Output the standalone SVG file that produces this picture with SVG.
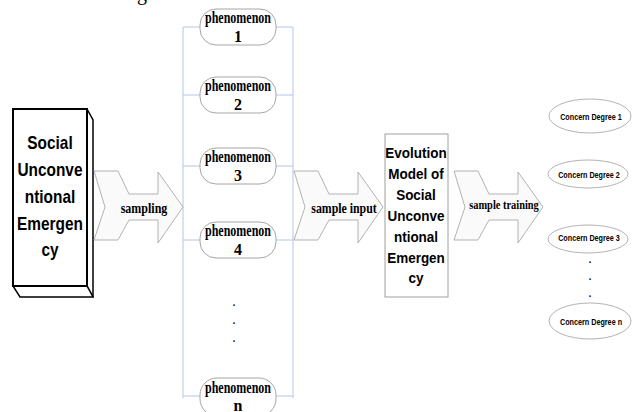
<svg xmlns="http://www.w3.org/2000/svg" width="632" height="412" viewBox="0 0 632 412">
<style>
.bg{fill:#fff}
.conn{stroke:#b4c6e7;stroke-width:1;fill:none}
.phen{fill:#fff;stroke:#a6a6a6;stroke-width:1}
.ptxt{font-family:"Liberation Serif",serif;font-weight:bold;font-size:16px;fill:#000;text-anchor:middle}
.arrow{fill:#fafafa;stroke:#a0a0a0;stroke-width:0.8}
.atxt{font-family:"Liberation Serif",serif;font-weight:bold;font-size:15px;fill:#000;text-anchor:middle}
.btxt{font-family:"Liberation Sans",Arial,sans-serif;font-weight:bold;fill:#000;text-anchor:middle}
.ell{fill:#fff;stroke:#a0a0a0;stroke-width:0.8}
.ctxt{font-family:"Liberation Sans",Arial,sans-serif;font-weight:bold;font-size:9.5px;fill:#000;text-anchor:middle}
.dot{font-family:"Liberation Serif",serif;font-size:14px;fill:#000;text-anchor:middle}
</style>
<rect class="bg" x="0" y="0" width="632" height="412"/>
<text x="137" y="-0.5" style="font-family:'Liberation Serif',serif;font-size:20px">g</text>

<g id="connectors">
  <line class="conn" x1="183" y1="27" x2="183" y2="398"/>
  <line class="conn" x1="293" y1="27" x2="293" y2="398"/>
  <line class="conn" x1="183" y1="27" x2="200" y2="27"/>
  <line class="conn" x1="276" y1="27" x2="293" y2="27"/>
  <line class="conn" x1="183" y1="95" x2="200" y2="95"/>
  <line class="conn" x1="276" y1="95" x2="293" y2="95"/>
  <line class="conn" x1="183" y1="166" x2="200" y2="166"/>
  <line class="conn" x1="276" y1="166" x2="293" y2="166"/>
  <line class="conn" x1="183" y1="240" x2="200" y2="240"/>
  <line class="conn" x1="276" y1="240" x2="293" y2="240"/>
  <line class="conn" x1="183" y1="396" x2="200" y2="396"/>
  <line class="conn" x1="276" y1="396" x2="293" y2="396"/>
</g>

<g id="social-emergency">
  <polygon points="87,109 93,120 93,297 87,286" fill="#fff" stroke="#000" stroke-width="1.5"/>
  <polygon points="13,286 87,286 93,297 20,297" fill="#fff" stroke="#000" stroke-width="1.5"/>
  <rect x="13" y="109" width="74" height="177" fill="#fff" stroke="#000" stroke-width="2"/>
  <g transform="translate(50,0) scale(0.88,1)">
    <text class="btxt" style="font-size:17.5px" x="0" y="149">Social</text>
    <text class="btxt" style="font-size:17.5px" x="0" y="176">Unconve</text>
    <text class="btxt" style="font-size:17.5px" x="0" y="203">ntional</text>
    <text class="btxt" style="font-size:17.5px" x="0" y="230">Emergen</text>
    <text class="btxt" style="font-size:17.5px" x="0" y="256">cy</text>
  </g>
</g>

<g id="arrow-sampling">
  <polygon class="arrow" points="94,171 118,171 129,194 158,194 158,172 183,207 158,243 158,220 129,220 118,240 94,240 105,207"/>
  <text class="atxt" transform="translate(144,213) scale(0.8,1)" x="0" y="0">sampling</text>
</g>

<g id="phenomenon-1">
  <rect class="phen" x="200" y="9" width="76" height="36" rx="16" ry="16"/>
  <text class="ptxt" transform="translate(238,23) scale(0.75,1)" x="0" y="0">phenomenon</text>
  <text class="ptxt" x="238" y="42">1</text>
</g>
<g id="phenomenon-2">
  <rect class="phen" x="200" y="77" width="76" height="36" rx="16" ry="16"/>
  <text class="ptxt" transform="translate(238,91) scale(0.75,1)" x="0" y="0">phenomenon</text>
  <text class="ptxt" x="238" y="110">2</text>
</g>
<g id="phenomenon-3">
  <rect class="phen" x="200" y="148" width="76" height="36" rx="16" ry="16"/>
  <text class="ptxt" transform="translate(238,162) scale(0.75,1)" x="0" y="0">phenomenon</text>
  <text class="ptxt" x="238" y="181">3</text>
</g>
<g id="phenomenon-4">
  <rect class="phen" x="200" y="222" width="76" height="36" rx="16" ry="16"/>
  <text class="ptxt" transform="translate(238,236) scale(0.75,1)" x="0" y="0">phenomenon</text>
  <text class="ptxt" x="238" y="255">4</text>
</g>
<g id="phenomenon-dots">
  <text class="dot" x="234" y="306">.</text>
  <text class="dot" x="234" y="324">.</text>
  <text class="dot" x="234" y="342">.</text>
</g>
<g id="phenomenon-n">
  <rect class="phen" x="200" y="378" width="76" height="38" rx="17" ry="17"/>
  <text class="ptxt" transform="translate(238,393) scale(0.75,1)" x="0" y="0">phenomenon</text>
  <text class="ptxt" x="238" y="411">n</text>
</g>

<g id="arrow-sample-input">
  <polygon class="arrow" points="294,171 318,171 329,194 358,194 358,172 383,207 358,243 358,220 329,220 318,240 294,240 305,207"/>
  <text class="atxt" transform="translate(344,213) scale(0.79,1)" x="0" y="0">sample input</text>
</g>

<g id="evolution-model">
  <rect x="385" y="134" width="63" height="163" fill="#fff" stroke="#a0a0a0" stroke-width="1"/>
  <g transform="translate(416,0) scale(0.9,1)">
    <text class="btxt" style="font-size:15px" x="0" y="158">Evolution</text>
    <text class="btxt" style="font-size:15px" x="0" y="179">Model of</text>
    <text class="btxt" style="font-size:15px" x="0" y="200">Social</text>
    <text class="btxt" style="font-size:15px" x="0" y="221">Unconve</text>
    <text class="btxt" style="font-size:15px" x="0" y="242">ntional</text>
    <text class="btxt" style="font-size:15px" x="0" y="263">Emergen</text>
    <text class="btxt" style="font-size:15px" x="0" y="283">cy</text>
  </g>
</g>

<g id="arrow-sample-training">
  <polygon class="arrow" points="454,171 478,171 489,194 518,194 518,172 543,207 518,243 518,220 489,220 478,240 454,240 465,207"/>
  <text class="atxt" style="font-size:13px" transform="translate(504,209) scale(0.8,1)" x="0" y="0">sample training</text>
</g>

<g id="concern-1">
  <ellipse class="ell" cx="590" cy="116" rx="41" ry="17"/>
  <text class="ctxt" transform="translate(591,120) scale(0.76,1)" x="0" y="0">Concern Degree  1</text>
</g>
<g id="concern-2">
  <ellipse class="ell" cx="588" cy="174" rx="40" ry="14"/>
  <text class="ctxt" transform="translate(589,178) scale(0.76,1)" x="0" y="0">Concern Degree  2</text>
</g>
<g id="concern-3">
  <ellipse class="ell" cx="588" cy="239" rx="40" ry="14"/>
  <text class="ctxt" transform="translate(589,241) scale(0.76,1)" x="0" y="0">Concern Degree  3</text>
</g>
<g id="concern-dots">
  <text class="dot" x="590" y="263">.</text>
  <text class="dot" x="590" y="280">.</text>
  <text class="dot" x="590" y="297">.</text>
</g>
<g id="concern-n">
  <ellipse class="ell" cx="590" cy="321" rx="41" ry="18"/>
  <text class="ctxt" transform="translate(591,325) scale(0.76,1)" x="0" y="0">Concern Degree  n</text>
</g>
</svg>
